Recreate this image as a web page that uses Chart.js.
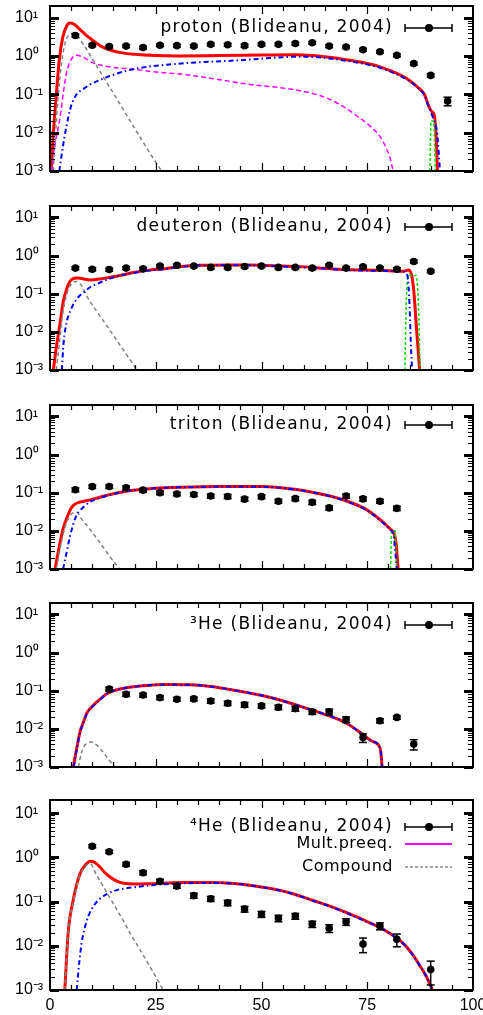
<!DOCTYPE html>
<html>
<head>
<meta charset="utf-8">
<script src="https://cdn.jsdelivr.net/npm/chart.js@4.4.1/dist/chart.umd.min.js"></script>
<style>
  body { margin: 0; background: #fff; width: 483px; height: 1015px; overflow: hidden; position: relative; }
  canvas { position: absolute; left: 0; }
</style>
</head>
<body>
<script>
// ===== DATA =====
const decadeTicks = [1e-3, 1e-2, 1e-1, 1, 10];
const xTicks = [0, 25, 50, 75, 100];

// proton
const protonExpX = [6, 10, 14, 18, 22, 26, 30, 34, 38, 42, 46, 50, 54, 58, 62, 66, 70, 74, 78, 82, 86, 90, 94];
const protonExpY = [3.4, 1.9, 1.75, 1.8, 1.65, 1.9, 1.85, 1.8, 2.0, 1.95, 1.85, 2.0, 2.0, 2.1, 2.2, 1.8, 1.7, 1.45, 1.28, 1.04, 0.63, 0.31, 0.067];
const protonExpErr = [0.3, 0.15, 0.14, 0.14, 0.13, 0.15, 0.15, 0.14, 0.16, 0.16, 0.15, 0.16, 0.16, 0.17, 0.18, 0.15, 0.14, 0.12, 0.1, 0.09, 0.05, 0.03, 0.017];
const protonTotal = [[0.3,0.001],[0.8,0.01],[1.5,0.1],[2.2,0.8],[3,3],[4,6.2],[4.8,7.2],[5.8,6.6],[7,5],[8.5,3.5],[10,2.6],[12,1.8],[14,1.45],[17,1.2],[20,1.1],[25,1.02],[30,1.0],[40,1.02],[50,1.05],[58,1.07],[62,1.02],[66,0.92],[70,0.8],[74,0.67],[78,0.52],[82,0.35],[85,0.23],[87,0.15],[88.5,0.1],[89.5,0.05],[90.2,0.036],[90.8,0.03],[91.2,0.012],[91.6,0.001]];
const protonPreeq = [[2.2,0.001],[3,0.004],[3.9,0.015],[5,0.05],[6.3,0.1],[8,0.14],[9.5,0.18],[12,0.24],[14.2,0.3],[17,0.38],[19.7,0.45],[23,0.52],[27.6,0.59],[35,0.68],[42,0.74],[47,0.8],[52,0.88],[58,0.95],[62,0.94],[66,0.86],[70,0.75],[74,0.63],[78,0.49],[82,0.33],[85,0.22],[87,0.145],[88.5,0.095],[89.5,0.048],[90.5,0.025],[91.5,0.01],[92.2,0.001]];
const protonMulti = [[0.4,0.001],[1.2,0.005],[2.4,0.026],[3.2,0.12],[3.9,0.36],[5,0.8],[6.3,1.04],[8,0.9],[10.2,0.66],[14,0.52],[19.7,0.45],[25,0.38],[31.5,0.33],[40,0.24],[47.3,0.18],[54.4,0.149],[62.2,0.104],[66,0.075],[70,0.043],[73,0.025],[75.6,0.015],[78,0.008],[79.6,0.0037],[80.5,0.002],[81.1,0.001]];
const protonComp = [[0.8,0.001],[1.5,0.02],[2.5,0.4],[3.5,2.0],[4.5,3.6],[5.5,3.9],[6.5,3.2],[8,1.9],[10,0.84],[12,0.36],[14,0.16],[16,0.07],[18,0.03],[20,0.013],[22,0.0057],[24,0.0025],[26.4,0.001]];
const protonDisc = [[89.8,0.001],[90.1,0.02],[90.7,0.02],[91.1,0.001]];

// deuteron
const deutExpX = [6, 10, 14, 18, 22, 26, 30, 34, 38, 42, 46, 50, 54, 58, 62, 66, 70, 74, 78, 82, 86, 90];
const deutExpY = [0.47, 0.44, 0.43, 0.47, 0.45, 0.53, 0.56, 0.53, 0.49, 0.49, 0.52, 0.53, 0.49, 0.49, 0.47, 0.56, 0.47, 0.51, 0.47, 0.44, 0.70, 0.39];
const deutExpErr = [0.04, 0.04, 0.04, 0.04, 0.04, 0.04, 0.04, 0.04, 0.04, 0.04, 0.04, 0.04, 0.04, 0.04, 0.04, 0.04, 0.04, 0.04, 0.04, 0.04, 0.06, 0.03];
const deutTotal = [[0.8,0.001],[1.5,0.004],[2,0.009],[2.6,0.025],[3.1,0.06],[4,0.14],[4.7,0.21],[5.5,0.25],[6.3,0.26],[7.5,0.25],[9.5,0.23],[12,0.245],[14.2,0.27],[17,0.31],[19.7,0.36],[23,0.41],[27.6,0.46],[31,0.52],[35.5,0.56],[42,0.57],[47.3,0.57],[55,0.53],[62,0.49],[70,0.43],[78,0.41],[83.5,0.39],[84.8,0.42],[85.5,0.3],[86,0.12],[86.7,0.01],[87.4,0.001]];
const deutPreeq = [[2.8,0.001],[3.2,0.005],[3.9,0.017],[5,0.04],[6.3,0.072],[8,0.11],[9.5,0.148],[12,0.2],[14.2,0.25],[17,0.31],[19.7,0.35],[23,0.4],[27.6,0.45],[31,0.51],[35.5,0.55],[42,0.56],[47.3,0.56],[55,0.52],[62,0.48],[70,0.42],[78,0.4],[83.5,0.38],[84.5,0.3],[85,0.05],[85.3,0.005],[85.6,0.001]];
const deutComp = [[1.5,0.001],[2.2,0.005],[3,0.03],[4,0.1],[5,0.18],[6.3,0.21],[7.5,0.16],[9,0.076],[11,0.035],[13,0.017],[15,0.008],[17,0.0038],[19,0.0018],[20.5,0.001]];
const deutDisc = [[83.9,0.001],[84.2,0.05],[84.7,0.3],[86.5,0.3],[87.1,0.05],[87.5,0.001]];

// triton
const tritExpX = [6, 10, 14, 18, 22, 26, 30, 34, 38, 42, 46, 50, 54, 58, 62, 66, 70, 74, 78, 82];
const tritExpY = [0.12, 0.145, 0.145, 0.135, 0.117, 0.10, 0.093, 0.09, 0.082, 0.08, 0.068, 0.079, 0.06, 0.07, 0.056, 0.04, 0.082, 0.069, 0.06, 0.039];
const tritExpErr = [0.014, 0.015, 0.015, 0.016, 0.013, 0.011, 0.01, 0.01, 0.01, 0.01, 0.008, 0.009, 0.007, 0.008, 0.007, 0.005, 0.01, 0.008, 0.007, 0.005];
const tritTotal = [[1.2,0.001],[2,0.003],[3.1,0.0115],[4,0.022],[4.7,0.034],[5.5,0.046],[6.3,0.053],[8,0.06],[9.5,0.065],[12,0.077],[14.2,0.09],[17,0.105],[19.7,0.117],[25,0.132],[31.5,0.14],[40,0.145],[50,0.145],[58.3,0.121],[62,0.103],[66.2,0.082],[70,0.061],[74.1,0.04],[76.5,0.027],[78.8,0.0166],[80.5,0.011],[81.2,0.009],[81.8,0.005],[82.3,0.001]];
const tritPreeq = [[3.1,0.001],[4,0.003],[4.7,0.007],[5.5,0.015],[6.3,0.026],[8,0.043],[9.5,0.058],[12,0.074],[14.2,0.088],[17,0.104],[19.7,0.116],[25,0.131],[31.5,0.14],[40,0.145],[50,0.144],[58.3,0.12],[62,0.102],[66.2,0.081],[70,0.06],[74.1,0.039],[76.5,0.026],[78.8,0.016],[80.5,0.0105],[81.2,0.008],[81.6,0.003],[82,0.001]];
const tritComp = [[1.5,0.001],[2.5,0.004],[3.5,0.012],[4.5,0.023],[5.5,0.03],[6.3,0.031],[7.5,0.02],[9,0.0126],[11,0.0065],[13,0.0032],[15,0.0016],[16.5,0.001]];
const tritDisc = [[80.5,0.001],[80.8,0.01],[81.6,0.01],[81.9,0.001]];

// 3He
const he3ExpX = [14, 18, 22, 26, 30, 34, 38, 42, 46, 50, 54, 58, 62, 66, 70, 74, 78, 82, 86];
const he3ExpY = [0.11, 0.081, 0.077, 0.066, 0.06, 0.061, 0.054, 0.047, 0.043, 0.040, 0.037, 0.034, 0.028, 0.028, 0.0175, 0.0059, 0.0163, 0.020, 0.004];
const he3ExpErr = [0.013, 0.01, 0.009, 0.008, 0.007, 0.007, 0.007, 0.006, 0.006, 0.005, 0.005, 0.005, 0.004, 0.005, 0.003, 0.0015, 0.002, 0.002, 0.0012];
const he3Total = [[5.5,0.001],[6.3,0.003],[7.1,0.0083],[8,0.016],[8.7,0.026],[10.2,0.041],[12,0.062],[13.4,0.083],[15,0.1],[18,0.12],[22,0.135],[27.6,0.145],[33,0.143],[38,0.13],[42.5,0.108],[47,0.088],[50.4,0.074],[54.4,0.057],[58,0.043],[62,0.031],[66,0.022],[70,0.0143],[74,0.0071],[76,0.0048],[78,0.0032],[78.3,0.002],[78.5,0.001]];
const he3Preeq = [[5.6,0.001],[6.3,0.0029],[7.1,0.008],[8,0.0155],[8.7,0.025],[10.2,0.04],[12,0.061],[13.4,0.082],[15,0.1],[18,0.12],[22,0.135],[27.6,0.145],[33,0.143],[38,0.13],[42.5,0.108],[47,0.088],[50.4,0.074],[54.4,0.057],[58,0.043],[62,0.031],[66,0.022],[70,0.0143],[74,0.0071],[76,0.0048],[78,0.0032],[78.3,0.002],[78.5,0.001]];
const he3Comp = [[6.7,0.001],[7.5,0.0025],[8.5,0.004],[9.9,0.0045],[11,0.0038],[12.5,0.0025],[14,0.0015],[15.4,0.001]];

// 4He
const he4ExpX = [10, 14, 18, 22, 26, 30, 34, 38, 42, 46, 50, 54, 58, 62, 66, 70, 74, 78, 82, 90];
const he4ExpY = [1.8, 1.35, 0.70, 0.45, 0.29, 0.225, 0.137, 0.116, 0.094, 0.068, 0.052, 0.042, 0.047, 0.031, 0.025, 0.035, 0.011, 0.028, 0.014, 0.0029];
const he4ExpErr = [0.15, 0.11, 0.07, 0.045, 0.03, 0.025, 0.018, 0.015, 0.013, 0.01, 0.008, 0.007, 0.007, 0.005, 0.005, 0.006, 0.004, 0.005, 0.0045, 0.0016];
const he4Total = [[3.5,0.001],[4.3,0.02],[5.5,0.11],[7.1,0.43],[8.5,0.7],[9.5,0.82],[10.5,0.78],[11.8,0.61],[13,0.45],[14.2,0.36],[15.8,0.29],[17.4,0.26],[20,0.25],[23.6,0.255],[31.5,0.27],[38,0.27],[43,0.26],[48,0.23],[54.4,0.18],[58,0.145],[62.2,0.106],[66,0.08],[70,0.057],[74,0.039],[78,0.026],[80,0.02],[83.5,0.0114],[85.5,0.0068],[87.4,0.0036],[89,0.002],[90.4,0.001]];
const he4Preeq = [[6.3,0.001],[7,0.005],[7.5,0.012],[8.2,0.025],[9.1,0.048],[10.5,0.085],[11.8,0.116],[13.5,0.15],[15.6,0.18],[18,0.2],[21.3,0.22],[25,0.24],[31.5,0.26],[38,0.265],[43,0.258],[48,0.228],[54.4,0.178],[58,0.144],[62.2,0.105],[66,0.079],[70,0.056],[74,0.038],[78,0.026],[80,0.02],[83.5,0.0113],[85.5,0.0067],[87.4,0.0036],[89,0.002],[90.4,0.001]];
const he4Comp = [[3.5,0.001],[4.3,0.02],[5.5,0.1],[7.1,0.4],[8.5,0.65],[9.5,0.72],[11,0.4],[13,0.19],[15,0.089],[17,0.042],[19,0.019],[21,0.009],[23,0.0043],[25,0.002],[26.8,0.001]];

// ===== LAYOUT =====
const PANELS = [
  { title: 'proton (Blideanu, 2004)',   top: 6,   bottom: 196, titleY: 28,  exp: [protonExpX, protonExpY, protonExpErr], total: protonTotal, preeq: protonPreeq, multi: protonMulti, comp: protonComp, disc: protonDisc },
  { title: 'deuteron (Blideanu, 2004)', top: 206, bottom: 395, titleY: 227, exp: [deutExpX, deutExpY, deutExpErr], total: deutTotal, preeq: deutPreeq, comp: deutComp, disc: deutDisc },
  { title: 'triton (Blideanu, 2004)',   top: 405, bottom: 594, titleY: 425, exp: [tritExpX, tritExpY, tritExpErr], total: tritTotal, preeq: tritPreeq, comp: tritComp, disc: tritDisc },
  { title: '³He (Blideanu, 2004)',      top: 603, bottom: 792, titleY: 625, exp: [he3ExpX, he3ExpY, he3ExpErr], total: he3Total, preeq: he3Preeq, comp: he3Comp },
  { title: '⁴He (Blideanu, 2004)',      top: 800, bottom: 990, titleY: 827, exp: [he4ExpX, he4ExpY, he4ExpErr], total: he4Total, preeq: he4Preeq, comp: he4Comp, legend: true, xLabels: true },
];

const W = 483, H = 1015;
const LEFT = 50, RIGHT = 473, PAD = 15;
const TEXT_FONT = '17px "DejaVu Sans"';
const SUP = { '-': '⁻', '0': '⁰', '1': '¹', '2': '²', '3': '³' };

function tenPow(v) {
  const e = Math.round(Math.log10(v));
  return '10' + String(e).split('').map(c => SUP[c]).join('');
}

function curve(points, color, width, dash, order) {
  return {
    data: points.map(([x, y]) => ({ x, y })),
    borderColor: color, borderWidth: width, borderDash: dash,
    pointRadius: 0, cubicInterpolationMode: 'monotone', fill: false, order
  };
}

// frame, inward ticks, error bars, in-panel labels
const decorations = {
  id: 'decorations',
  afterDatasetsDraw(chart, args, opts) {
    const { ctx, chartArea: a, scales: { x, y } } = chart;
    const seg = (x1, y1, x2, y2) => { ctx.beginPath(); ctx.moveTo(x1, y1); ctx.lineTo(x2, y2); ctx.stroke(); };
    ctx.save();
    ctx.strokeStyle = '#000';
    ctx.fillStyle = '#000';

    // error bars
    const exp = chart.data.datasets[0];
    ctx.lineWidth = 1.5;
    exp.data.forEach((p, i) => {
      const e = exp.err[i];
      const px = x.getPixelForValue(p.x);
      const y1 = y.getPixelForValue(Math.max(p.y - e, 1e-4));
      const y2 = y.getPixelForValue(p.y + e);
      seg(px, y1, px, y2);
      seg(px - 4, y1, px + 4, y1);
      seg(px - 4, y2, px + 4, y2);
    });

    // y ticks (left and right, inward)
    for (let e = -3; e <= 1; e++) {
      for (let m = 1; m <= 9; m++) {
        const v = m * Math.pow(10, e);
        if (v > y.max) break;
        const py = Math.round(y.getPixelForValue(v)) + 0.5;
        const len = m === 1 ? 9 : 5;
        ctx.lineWidth = m === 1 ? 3 : 1;
        seg(a.left, py, a.left + len, py);
        seg(a.right, py, a.right - len, py);
      }
    }
    // x ticks (top and bottom, inward)
    for (let v = 5; v < 100; v += 5) {
      const px = Math.round(x.getPixelForValue(v)) + 0.5;
      const len = v % 25 === 0 ? 8 : 5;
      ctx.lineWidth = 1.2;
      seg(px, a.bottom, px, a.bottom - len);
      seg(px, a.top, px, a.top + len);
    }
    // frame
    ctx.lineWidth = 2;
    ctx.strokeRect(a.left, a.top, a.right - a.left, a.bottom - a.top);

    // title + data key
    const ty = opts.titleY - opts.canvasTop;
    ctx.font = TEXT_FONT;
    ctx.letterSpacing = '1.3px';
    ctx.textAlign = 'right';
    ctx.textBaseline = 'middle';
    ctx.fillText(opts.title, 393, ty);
    ctx.lineWidth = 1.5;
    seg(405, ty, 452, ty);
    seg(405, ty - 4, 405, ty + 4);
    seg(452, ty - 4, 452, ty + 4);
    ctx.beginPath(); ctx.arc(429, ty, 4, 0, Math.PI * 2); ctx.fill();

    if (opts.legend) {
      ctx.font = '16px "DejaVu Sans"';
      ctx.letterSpacing = '0.5px';
      ctx.fillText('Mult.preeq.', 393, ty + 17);
      ctx.fillText('Compound', 393, ty + 40);
      ctx.strokeStyle = '#ff00ff';
      ctx.lineWidth = 2;
      seg(405, ty + 17, 452, ty + 17);
      ctx.strokeStyle = '#888';
      ctx.lineWidth = 1.5;
      ctx.setLineDash([3, 2]);
      seg(405, ty + 40, 452, ty + 40);
    }
    ctx.restore();
  }
};

PANELS.forEach(p => {
  const canvasTop = p.top - PAD;
  const canvasH = p.xLabels ? H - canvasTop : (p.bottom - p.top) + 2 * PAD;
  const cv = document.createElement('canvas');
  cv.width = W; cv.height = canvasH;
  cv.style.top = canvasTop + 'px';
  document.body.appendChild(cv);

  const [ex, ey, eerr] = p.exp;
  const datasets = [{
    data: ex.map((x, i) => ({ x, y: ey[i] })),
    err: eerr,
    showLine: false, pointRadius: 3.8, pointBackgroundColor: '#000', pointBorderWidth: 0, order: 0
  }];
  datasets.push(curve(p.preeq, '#0000ff', 2, [5, 3, 1.5, 3], 1));
  datasets.push(curve(p.comp, '#808080', 1.5, [4, 3], 2));
  if (p.multi) datasets.push(curve(p.multi, '#ff00ff', 1.5, [5, 3], 3));
  if (p.disc) datasets.push(curve(p.disc, '#00dd00', 1.5, [3, 2], 4));
  datasets.push(curve(p.total, '#ff0000', 3, [], 5));

  const xAxisH = 25;
  new Chart(cv, {
    type: 'line',
    data: { datasets },
    options: {
      responsive: false,
      animation: false,
      devicePixelRatio: 1,
      layout: {
        padding: {
          left: PAD, right: W - RIGHT, top: PAD,
          bottom: p.xLabels ? canvasH - (p.bottom - canvasTop) - xAxisH : PAD
        }
      },
      plugins: {
        legend: { display: false },
        tooltip: { enabled: false },
        decorations: { title: p.title, titleY: p.titleY, canvasTop, legend: !!p.legend }
      },
      scales: {
        x: {
          type: 'linear', min: 0, max: 100,
          display: !!p.xLabels,
          grid: { display: false, drawTicks: false },
          border: { display: false },
          afterBuildTicks: s => { s.ticks = xTicks.map(v => ({ value: v })); },
          afterFit: s => { s.height = xAxisH; s.paddingLeft = 0; s.paddingRight = 0; },
          ticks: { color: '#000', padding: 6, maxRotation: 0, autoSkip: false, font: { family: 'Liberation Sans', size: 16 } }
        },
        y: {
          type: 'logarithmic', min: 1e-3, max: 20,
          grid: { display: false, drawTicks: false },
          border: { display: false },
          afterBuildTicks: s => { s.ticks = decadeTicks.map(v => ({ value: v })); },
          afterFit: s => { s.width = LEFT - PAD; s.paddingTop = 0; s.paddingBottom = 0; },
          ticks: {
            color: '#000', crossAlign: 'far', autoSkip: false,
            font: { family: 'Liberation Sans', size: 16 },
            callback: v => tenPow(v)
          }
        }
      }
    },
    plugins: [decorations]
  });
});
</script>
</body>
</html>
